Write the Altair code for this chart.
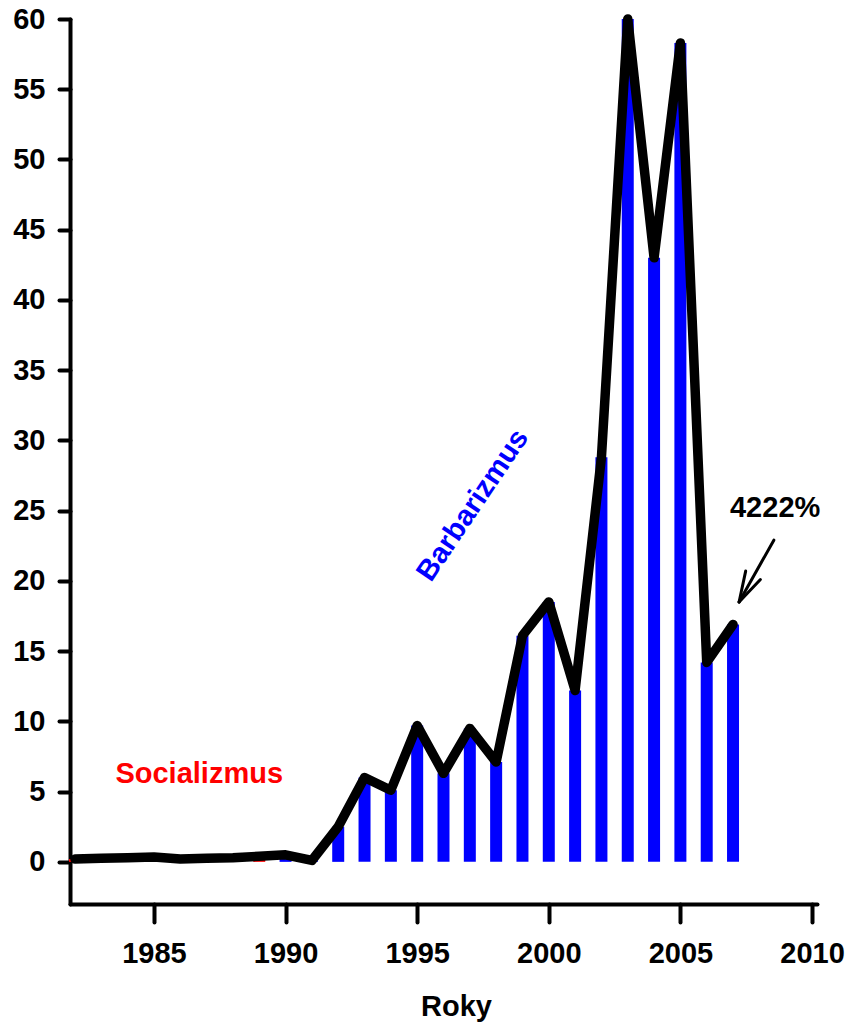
import altair as alt
import pandas as pd

years = list(range(1982, 2008))
values = [0.2, 0.25, 0.3, 0.35, 0.2, 0.25, 0.3, 0.4, 0.5, 0.1,
          2.5, 6.0, 5.1, 9.7, 6.3, 9.5, 7.1, 16.1, 18.5, 12.2,
          28.8, 60.0, 43.0, 58.3, 14.2, 16.9]
periods = ["Socializmus" if y < 1990 else "Barbarizmus" for y in years]

x_ticks = [1985, 1990, 1995, 2000, 2005, 2010]
y_ticks = [0, 5, 10, 15, 20, 25, 30, 35, 40, 45, 50, 55, 60]

# annotation positions (data units)
ann_text = ["Socializmus", "Barbarizmus", "4222%"]
ann_x = [1986.72, 1997.11, 2008.6]
ann_y = [6.26, 25.4, 25.2]
ann_color = ["#FF0000", "#0000FF", "#000000"]
ann_angle = [0, 304, 0]

# arrow segments (data units)
arr_x = [2008.55, 2007.23, 2007.23]
arr_y = [22.9, 18.5, 18.5]
arr_x2 = [2007.23, 2007.48, 2008.04]
arr_y2 = [18.5, 20.7, 20.1]

df = pd.DataFrame({"year": years, "value": values, "period": periods})
ann = pd.DataFrame({"text": ann_text, "x": ann_x, "y": ann_y,
                    "color": ann_color, "angle": ann_angle})
arr = pd.DataFrame({"x": arr_x, "y": arr_y, "x2": arr_x2, "y2": arr_y2})

xscale = alt.Scale(domain=[1982, 2010], nice=False, zero=False)
yscale = alt.Scale(domain=[-3, 60], nice=False, zero=False)

xaxis = alt.Axis(values=x_ticks, format="d", tickSize=18, labelPadding=17,
                 title="Roky", titleFontSize=29, titleFontWeight="bold",
                 titleFont="Liberation Sans", titleColor="black",
                 titleX=386, titleY=111, titleBaseline="alphabetic")
yaxis = alt.Axis(values=y_ticks, tickSize=11, labelPadding=14, title=None)

bars = alt.Chart(df).mark_bar(size=12).encode(
    x=alt.X("year:Q", scale=xscale, axis=xaxis),
    y=alt.Y("value:Q", scale=yscale, axis=yaxis),
    y2=alt.datum(0),
    color=alt.Color("period:N",
                    scale=alt.Scale(domain=["Socializmus", "Barbarizmus"],
                                    range=["#FF0000", "#0000FF"]),
                    legend=None),
)

line = alt.Chart(df).mark_line(color="black", strokeWidth=9.5,
                               strokeJoin="round", strokeCap="round").encode(
    x=alt.X("year:Q", scale=xscale),
    y=alt.Y("value:Q", scale=yscale),
)

texts = alt.Chart(ann).mark_text(font="Liberation Sans", fontSize=29,
                                 fontWeight="bold", align="center",
                                 baseline="middle").encode(
    x=alt.X("x:Q", scale=xscale),
    y=alt.Y("y:Q", scale=yscale),
    text="text:N",
    color=alt.Color("color:N", scale=None),
    angle=alt.Angle("angle:Q", scale=None),
)

arrow = alt.Chart(arr).mark_rule(color="black", strokeWidth=3,
                                 strokeCap="round").encode(
    x=alt.X("x:Q", scale=xscale),
    y=alt.Y("y:Q", scale=yscale),
    x2="x2:Q",
    y2="y2:Q",
)

chart = alt.layer(bars, line, texts, arrow).properties(
    width=747, height=885,
    autosize=alt.AutoSizeParams(type="none"),
    padding={"left": 62, "top": 11, "right": 30, "bottom": 121},
).configure_axis(
    domainWidth=4, domainColor="black", tickWidth=4, tickColor="black",
    labelFont="Liberation Sans", labelFontSize=29, labelFontWeight="bold",
    labelColor="black", grid=False, domainCap="round", tickCap="round",
).configure_view(stroke=None)

chart.save("out.html", embed_options={"renderer": "svg", "actions": False})
